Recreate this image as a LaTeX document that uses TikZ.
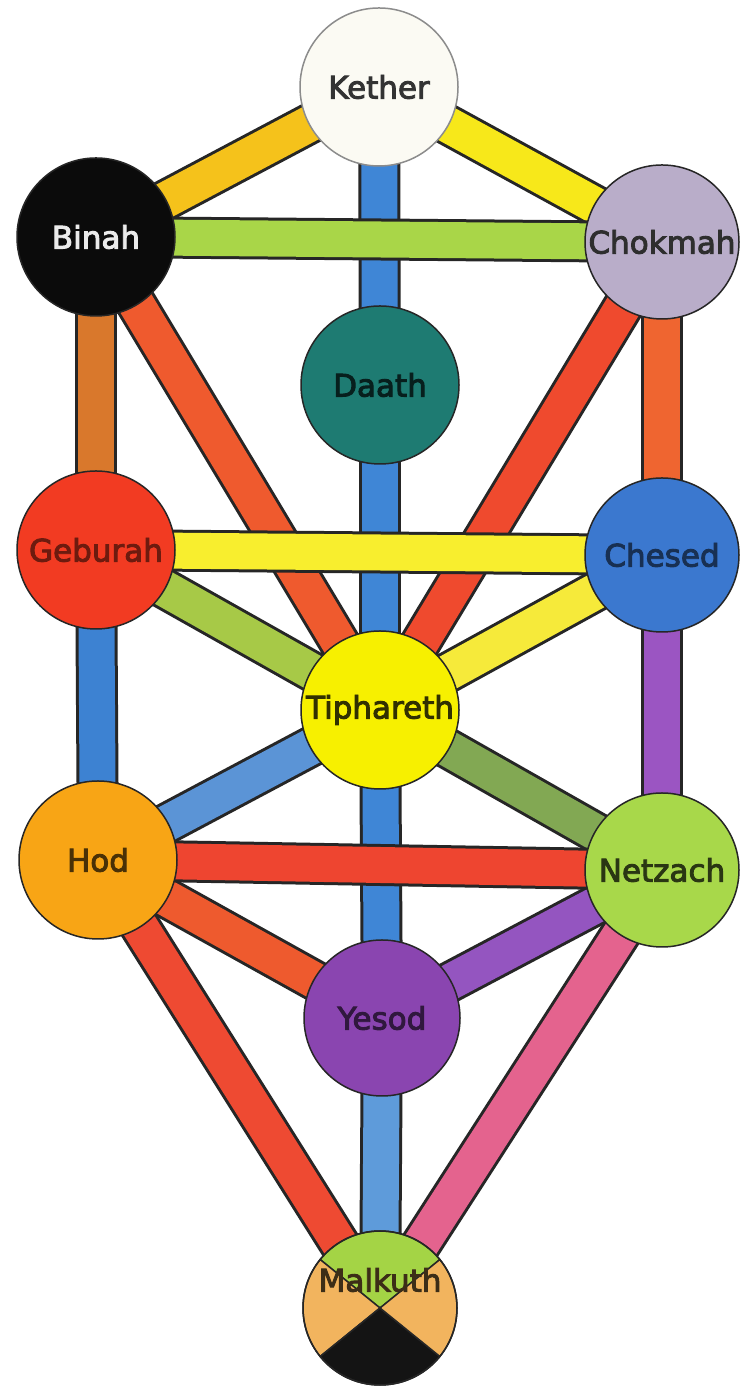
\documentclass[tikz,border=0pt]{standalone}
\usepackage{fontspec}
\setmainfont{DejaVu Sans}
\newfontfamily\sefont[FakeBold=3]{DejaVu Sans}
\pgfdeclarelayer{background}
\pgfsetlayers{background,main}
\definecolor{cKether}{HTML}{FBFAF3}
\definecolor{cBinah}{HTML}{0B0B0B}
\definecolor{cChokmah}{HTML}{B9ADC9}
\definecolor{cDaath}{HTML}{1E7B72}
\definecolor{cGeburah}{HTML}{F23B22}
\definecolor{cChesed}{HTML}{3B78CF}
\definecolor{cTiphareth}{HTML}{F7F000}
\definecolor{cHod}{HTML}{F8A515}
\definecolor{cNetzach}{HTML}{A8D84A}
\definecolor{cYesod}{HTML}{8A45B0}
\definecolor{mGreen}{HTML}{A4D445}
\definecolor{mOrange}{HTML}{F2B45E}
\definecolor{pKB}{HTML}{F5C21B}
\definecolor{pKC}{HTML}{F7E81A}
\definecolor{pBlue}{HTML}{3F86D6}
\definecolor{pBC}{HTML}{A9D648}
\definecolor{pBG}{HTML}{D9782C}
\definecolor{pBT}{HTML}{EF5A2E}
\definecolor{pCT}{HTML}{EF4A2E}
\definecolor{pCCh}{HTML}{EF6530}
\definecolor{pGCh}{HTML}{F8EE2E}
\definecolor{pGT}{HTML}{A7C947}
\definecolor{pChT}{HTML}{F6EA3A}
\definecolor{pGH}{HTML}{3D82D2}
\definecolor{pChN}{HTML}{9B55C2}
\definecolor{pTH}{HTML}{5B94D6}
\definecolor{pTN}{HTML}{82A853}
\definecolor{pHN}{HTML}{EE4530}
\definecolor{pHY}{HTML}{EE5A2E}
\definecolor{pNY}{HTML}{9455C0}
\definecolor{pHM}{HTML}{EE4A32}
\definecolor{pNM}{HTML}{E4638E}
\definecolor{pYM}{HTML}{5E9BDA}
\begin{document}
\begin{tikzpicture}[x=1pt,y=1pt,
  sef/.style={circle, draw=black!85, line width=1.5pt, minimum size=158pt, inner sep=0pt,
    font=\sefont\fontsize{31}{31}\selectfont},
  band/.style={draw=black!85, line width=3pt, double distance=36pt, double=#1},
  mal/.style={draw=black!85, line width=1.5pt}
]
\useasboundingbox (0,0) rectangle (739,1388);

% Malkuth quarters
\coordinate (mc) at (380,80);
\filldraw[mal, fill=mGreen] (mc) -- ++(39:77) arc[start angle=39, end angle=141, radius=77] -- cycle;
\filldraw[mal, fill=mOrange] (mc) -- ++(141:77) arc[start angle=141, end angle=219, radius=77] -- cycle;
\filldraw[mal, fill=black!92] (mc) -- ++(219:77) arc[start angle=219, end angle=321, radius=77] -- cycle;
\filldraw[mal, fill=mOrange] (mc) -- ++(-39:77) arc[start angle=-39, end angle=39, radius=77] -- cycle;

% Sephiroth
\node[sef, fill=cKether, draw=black!45, text=black!80] (kether) at (379,1301) {Kether};
\node[sef, fill=cBinah, text=white!92!black] (binah) at (96,1151) {Binah};
\node[sef, fill=cChokmah, minimum size=154pt, text=black!82] (chokmah) at (662,1146) {Chokmah};
\node[sef, fill=cDaath, text=black!75!cDaath] (daath) at (380,1003) {Daath};
\node[sef, fill=cGeburah, text=black!55!cGeburah] (geburah) at (96,838) {Geburah};
\node[sef, fill=cChesed, minimum size=154pt, text=black!60!cChesed] (chesed) at (662,833) {Chesed};
\node[sef, fill=cTiphareth, text=black!80!cTiphareth] (tiphareth) at (380,678) {Tiphareth};
\node[sef, fill=cHod, text=black!70!cHod] (hod) at (98,528) {Hod};
\node[sef, fill=cNetzach, minimum size=154pt, text=black!75!cNetzach] (netzach) at (662,518) {Netzach};
\node[sef, fill=cYesod, minimum size=156pt, text=black!65!cYesod] (yesod) at (382,370) {Yesod};
\node[sef, minimum size=154pt] (malkuth) at (mc) {};
\node[font=\sefont\fontsize{31}{31}\selectfont, text=black!75!mOrange, inner sep=0pt] (maltext) at (380,108) {Malkuth};

\begin{pgfonlayer}{background}
\fill[white] (0,0) rectangle (739,1388);
% middle pillar
\draw[band=pBlue] (kether.center) -- (daath.center);
\draw[band=pBlue] (daath.center) -- (tiphareth.center);
\draw[band=pBlue] (tiphareth.center) -- (yesod.center);
\draw[band=pYM] (yesod.center) -- (malkuth.center);
% side pillars
\draw[band=pBG] (binah.center) -- (geburah.center);
\draw[band=pGH] (geburah.center) -- (hod.center);
\draw[band=pCCh] (chokmah.center) -- (chesed.center);
\draw[band=pChN] (chesed.center) -- (netzach.center);
% diagonals
\draw[band=pKB] (kether.center) -- (binah.center);
\draw[band=pKC] (kether.center) -- (chokmah.center);
\draw[band=pBT] (binah.center) -- (tiphareth.center);
\draw[band=pCT] (chokmah.center) -- (tiphareth.center);
\draw[band=pGT] (geburah.center) -- (tiphareth.center);
\draw[band=pChT] (chesed.center) -- (tiphareth.center);
\draw[band=pTH] (tiphareth.center) -- (hod.center);
\draw[band=pTN] (tiphareth.center) -- (netzach.center);
\draw[band=pHM] (hod.center) -- (malkuth.center);
\draw[band=pNM] (netzach.center) -- (malkuth.center);
\draw[band=pHY] (hod.center) -- (yesod.center);
\draw[band=pNY] (netzach.center) -- (yesod.center);
% horizontals
\draw[band=pBC] (binah.center) -- (chokmah.center);
\draw[band=pGCh] (geburah.center) -- (chesed.center);
\draw[band=pHN] (hod.center) -- (netzach.center);
\end{pgfonlayer}
\end{tikzpicture}
\end{document}
